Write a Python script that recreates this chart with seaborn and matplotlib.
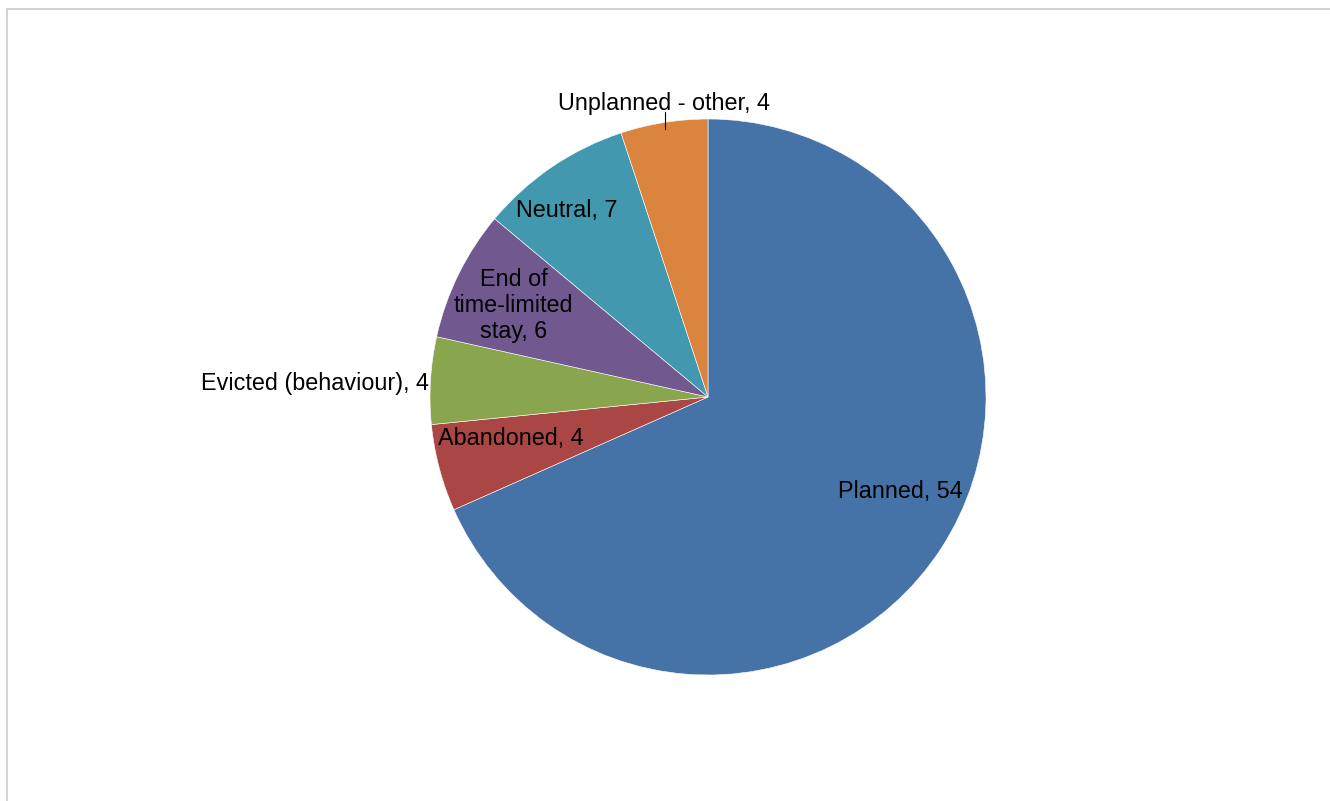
import numpy as np
import seaborn as sns
from matplotlib import pyplot as plt
from matplotlib.lines import Line2D

categories = ["Planned", "Abandoned", "Evicted (behaviour)", "End of\ntime-limited\nstay",
              "Neutral", "Unplanned - other"]
values = [54, 4, 4, 6, 7, 4]
colors = ["#4572A7", "#AA4643", "#89A54E", "#71588F", "#4198AF", "#DB843D"]

sns.set_theme(style="white")
plt.rcParams['font.family'] = ['Liberation Sans', 'DejaVu Sans']
pal = sns.color_palette(colors)

W, H = 1330, 801
fig = plt.figure(figsize=(W / 100, H / 100), dpi=100)

# pie centre / radius in pixels
cx, cy, r = 708, 397, 278
ax = fig.add_axes([(cx - r) / W, (H - cy - r) / H, 2 * r / W, 2 * r / H])
ax.pie(values, colors=pal, startangle=90, counterclock=False, radius=1,
       wedgeprops=dict(edgecolor="white", linewidth=0.4))
ax.set_xlim(-1, 1)
ax.set_ylim(-1, 1)
ax.set_aspect("equal")
ax.axis("off")

# label anchors in units of the radius
label_pos = [(0.69, -0.34, "center"), (-0.71, -0.15, "center"), (-1.005, 0.05, "right"),
             (-0.70, 0.33, "center"), (-0.51, 0.67, "center"), (-0.16, 1.055, "center")]
for cat, v, (x, y, ha) in zip(categories, values, label_pos):
    ax.text(x, y, f"{cat}, {v}", ha=ha, va="center", fontsize=16.8, color="black",
            linespacing=1.17, clip_on=False)
ax.plot([-0.155, -0.155], [1.025, 0.965], color="black", lw=0.8, clip_on=False)

# light frame
fig.add_artist(Line2D([7 / W, 1], [1 - 9 / H, 1 - 9 / H], color="#cccccc", lw=1.2,
                      transform=fig.transFigure))
fig.add_artist(Line2D([7 / W, 7 / W], [1 - 9 / H, 0], color="#cccccc", lw=1.2,
                      transform=fig.transFigure))

plt.savefig("out.png", dpi=100)
